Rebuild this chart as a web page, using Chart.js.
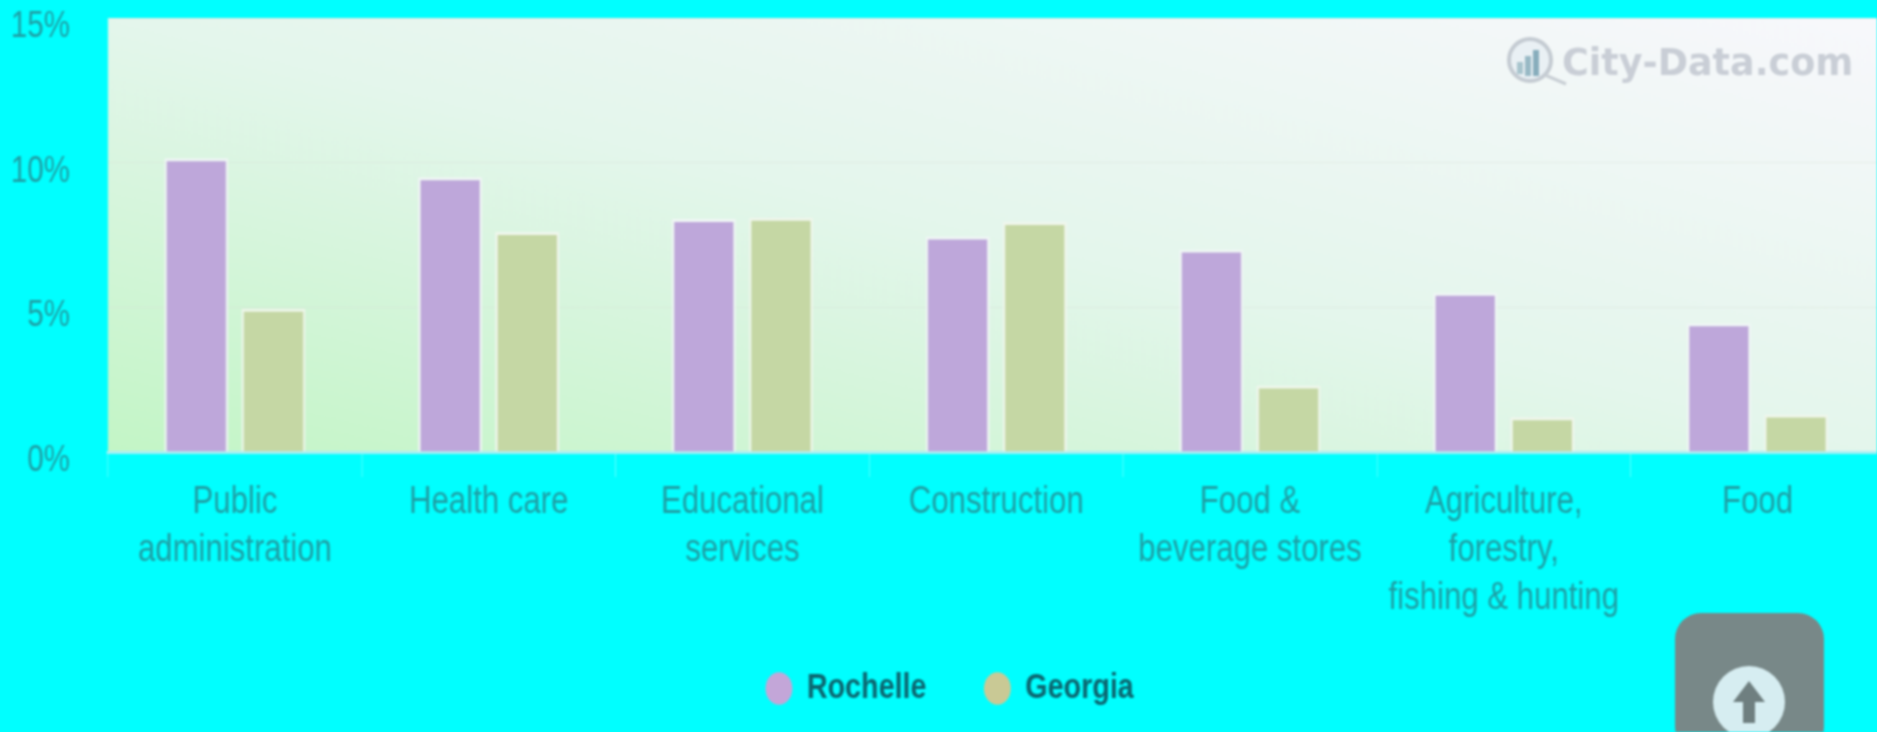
<!DOCTYPE html>
<html>
<head>
<meta charset="utf-8">
<title>Industries - Rochelle vs Georgia</title>
<script src="https://cdn.jsdelivr.net/npm/chart.js@4"></script>
<style>
    html, body { margin: 0; padding: 0; background: #00ffff; overflow: hidden; }
    #wrap { position: relative; width: 1877px; height: 732px; overflow: hidden; filter: blur(1px); }
    /* the picture is squeezed sideways, so the whole chart is drawn wider and scaled back */
    #chart { position: absolute; left: 0; top: 0; transform: scaleX(0.82); transform-origin: 0 0; }
    #logo { position: absolute; left: 1500px; top: 30px; }
    #logoText {
        position: absolute; left: 1562px; top: 41px; color: #c9ced6;
        font: bold 36.5px "DejaVu Sans", sans-serif; white-space: nowrap;
    }
    #toTop {
        position: absolute; left: 1675px; top: 613px; width: 149px; height: 140px;
        background: #788888; border-radius: 26px;
    }
</style>
</head>
<body>
<div id="wrap">
    <canvas id="chart" width="2351" height="733"></canvas>
    <svg id="logo" width="70" height="70" viewBox="0 0 70 70">
        <circle cx="30" cy="30" r="21" fill="#e9f0f4" stroke="#c4cbd2" stroke-width="4"/>
        <rect x="17" y="32" width="6" height="12" fill="#a8c4cd"/>
        <rect x="25" y="26" width="6" height="20" fill="#98b9c5"/>
        <rect x="33" y="20" width="6" height="26" fill="#88adbc"/>
        <line x1="45" y1="45" x2="66" y2="54" stroke="#c8ced4" stroke-width="3"/>
    </svg>
    <div id="logoText">City-Data.com</div>
    <div id="toTop">
        <svg width="149" height="140" viewBox="0 0 149 140">
            <circle cx="74" cy="89" r="36" fill="#d6edf1"/>
            <path d="M74 68 L90 89 L80 89 L80 110 L68 110 L68 89 L58 89 Z" fill="#6f7f80"/>
        </svg>
    </div>
</div>
<script>
// Data
const categories = [
    ['Public', 'administration'],
    'Health care',
    ['Educational', 'services'],
    'Construction',
    ['Food &', 'beverage stores'],
    ['Agriculture,', 'forestry,', 'fishing & hunting'],
    'Food'
];
const rochelle = [10.15, 9.5, 8.05, 7.45, 7.0, 5.5, 4.45];
const georgia = [4.95, 7.6, 8.1, 7.95, 2.3, 1.2, 1.3];
const yTicks = [0, 5, 10, 15];

const fontName = '"Liberation Sans", sans-serif';
const squeeze = 0.82;

// Plot background, white towards top right and green towards bottom left
const plotBackground = {
    id: 'plotBackground',
    beforeDraw(chart) {
        const { ctx, chartArea: a } = chart;
        const W = a.width, H = a.height;
        const k = 2 * W * H / (W * W + H * H);
        const g = ctx.createLinearGradient(a.left, a.bottom, a.left + H * k, a.bottom - W * k);
        g.addColorStop(0, '#c3f5c6');
        g.addColorStop(0.5, '#e4f6ec');
        g.addColorStop(1, '#f8f8fc');
        ctx.save();
        ctx.fillStyle = g;
        ctx.fillRect(a.left, a.top, W, H);
        ctx.restore();
    }
};

// Legend needs a wide gap between its items but sits close under the axis
const legendShift = {
    id: 'legendShift',
    afterLayout(chart) {
        chart.legend.top -= 17;
        chart.legend.bottom -= 17;
        chart.legend.left += 9;
        chart.legend.right += 9;
    }
};

new Chart(document.getElementById('chart'), {
    type: 'bar',
    data: {
        labels: categories,
        datasets: [
            { label: 'Rochelle', data: rochelle, backgroundColor: '#bea7da', borderColor: 'rgba(240,246,246,0.95)', borderWidth: 3 },
            { label: 'Georgia', data: georgia, backgroundColor: '#c5d7a4', borderColor: 'rgba(240,246,236,0.95)', borderWidth: 3 }
        ]
    },
    options: {
        responsive: false,
        animation: false,
        devicePixelRatio: 1,
        categoryPercentage: 0.608,
        barPercentage: 0.83,
        layout: { padding: { top: 18, right: 53 } },
        scales: {
            x: {
                afterFit(scale) { scale.height = 166; },
                grid: { drawOnChartArea: false, tickLength: 25, color: 'rgba(255,255,255,0.4)', offset: true },
                border: { color: '#a6f0f4', width: 3 },
                ticks: {
                    autoSkip: false, maxRotation: 0, padding: 2, color: '#1f9ea4',
                    font: { family: fontName, size: 38, lineHeight: 1.26 }
                }
            },
            y: {
                min: 0,
                max: 15,
                afterFit(scale) {
                    scale.width = 108 / squeeze;
                    scale.paddingTop = 0;
                    scale.paddingBottom = 0;
                },
                afterBuildTicks(scale) { scale.ticks = yTicks.map(v => ({ value: v })); },
                grid: { drawTicks: false, color: 'rgba(215,225,215,0.45)' },
                border: { display: false },
                ticks: {
                    padding: 38 / squeeze, labelOffset: 9, color: '#1f9ea4',
                    font: { family: fontName, size: 36 },
                    callback: v => v + '%'
                }
            }
        },
        plugins: {
            tooltip: { enabled: false },
            legend: {
                position: 'bottom',
                labels: {
                    usePointStyle: true,
                    pointStyle: 'circle',
                    pointStyleWidth: 33,
                    boxHeight: 23,
                    padding: 70,
                    color: '#0c6670',
                    font: { family: fontName, size: 35, weight: 'bold' },
                    generateLabels(chart) {
                        return chart.data.datasets.map((d, i) => ({
                            text: d.label,
                            fillStyle: i === 0 ? '#c3a6d8' : '#c9c995',
                            strokeStyle: 'transparent',
                            lineWidth: 0,
                            pointStyle: 'circle',
                            datasetIndex: i,
                            fontColor: '#0c6670'
                        }));
                    }
                }
            }
        }
    },
    plugins: [plotBackground, legendShift]
});
</script>
</body>
</html>
